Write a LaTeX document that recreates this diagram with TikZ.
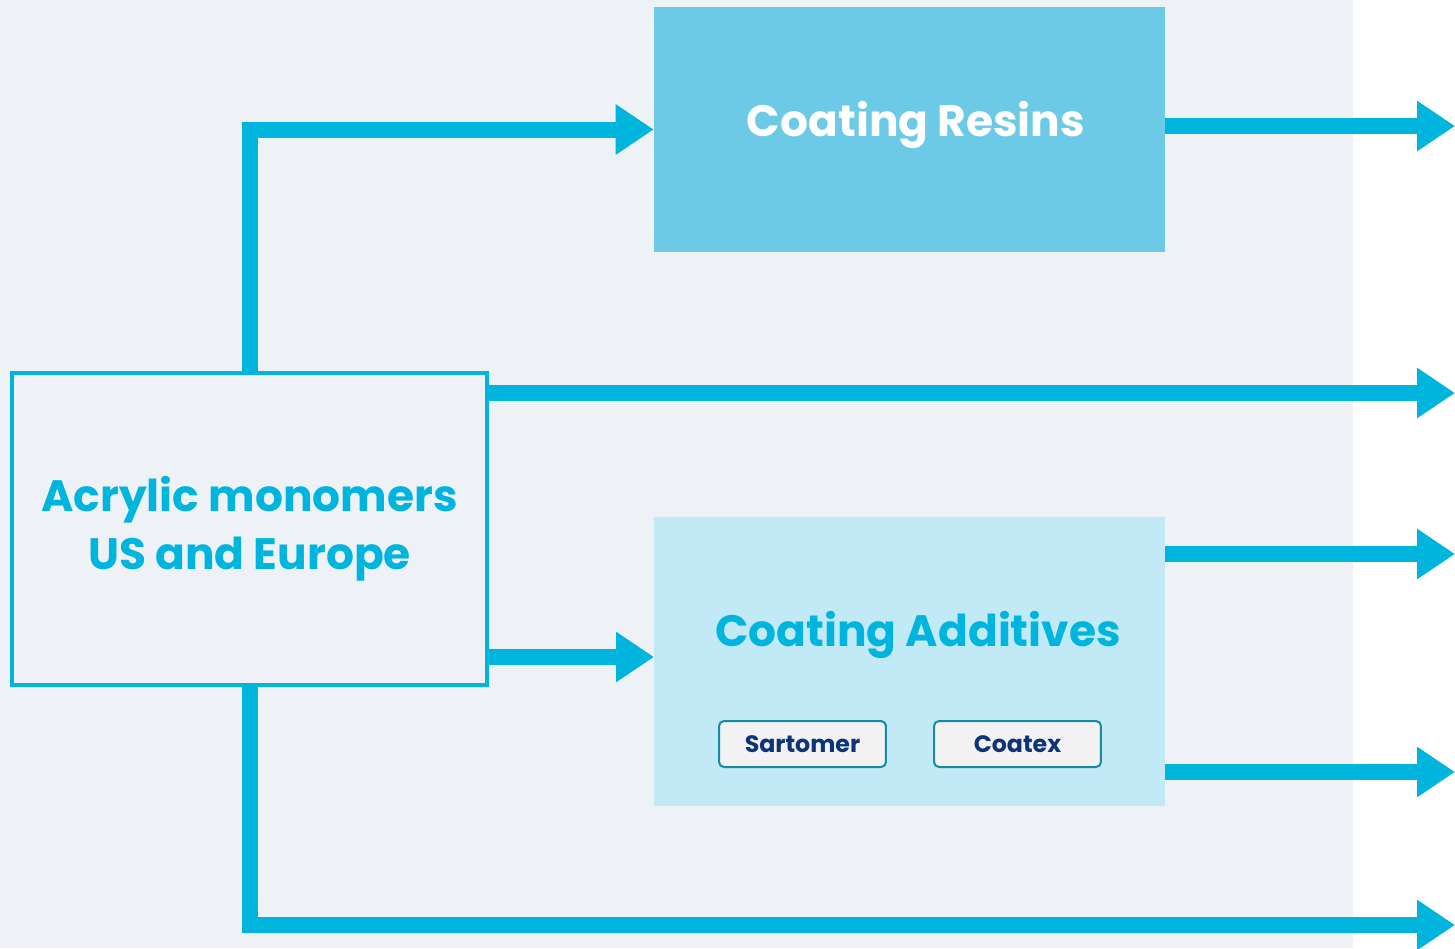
\documentclass[tikz,border=0pt]{standalone}
\usepackage{fontspec}
\setmainfont{Poppins}
\usepackage{tikz}
\usetikzlibrary{arrows.meta}
\definecolor{flowBlue}{RGB}{0,181,221}
\definecolor{paneGrey}{RGB}{238,242,247}
\definecolor{resinBlue}{RGB}{108,202,230}
\definecolor{additBlue}{RGB}{194,233,246}
\definecolor{chipEdge}{RGB}{22,138,166}
\definecolor{chipFill}{RGB}{242,242,242}
\definecolor{chipText}{RGB}{13,52,120}
\tikzset{>={Triangle[length=0.76cm,width=0.96cm]}}
\tikzset{
  monoNode/.style={shape=rectangle,draw=flowBlue,line width=0.08cm,fill=paneGrey,text=flowBlue,align=center,font=\bfseries\fontsize{25}{33}\selectfont},
  resinNode/.style={shape=rectangle,fill=resinBlue,text=white,font=\bfseries\fontsize{25}{30}\selectfont},
  additNode/.style={shape=rectangle,fill=additBlue},
  additTitle/.style={text=flowBlue,font=\bfseries\fontsize{25}{30}\selectfont},
  chipNode/.style={shape=rectangle,rounded corners=0.1cm,draw=chipEdge,line width=0.04cm,fill=chipFill,text=chipText,font=\bfseries\fontsize{13.5}{15}\selectfont},
  flowLink/.style={draw=flowBlue,->,line width=0.32cm}
}

\begin{document}
\begin{tikzpicture}[x=0.02cm,y=-0.02cm]
        \useasboundingbox (0,0) rectangle (1455,948);
        \fill[paneGrey] (0,0) rectangle (1353,948);

        \node[minimum width=9.5cm,minimum height=6.24cm] (acryl) [monoNode] at (249.5,529) {Acrylic monomers\\US and Europe};
        \node[minimum width=10.22cm,minimum height=4.9cm] (resin) [resinNode] at (909.5,129.5) {};
        \node (resinTxt) [resinNode] at (916,125) {Coating Resins};
        \node[minimum width=10.22cm,minimum height=5.78cm] (addit) [additNode] at (909.5,661.5) {};
        \node (additTxt) [additTitle] at (918,635) {Coating Additives};
        \node[minimum width=3.34cm,minimum height=0.92cm] (sarto) [chipNode] at (802.5,744) {Sartomer};
        \node[minimum width=3.34cm,minimum height=0.92cm] (coatex) [chipNode] at (1017.5,744) {Coatex};

        % outlets on the right edge
        \coordinate (outA) at (1455,126);
        \coordinate (outB) at (1455,393);
        \coordinate (outC) at (1455,554);
        \coordinate (outD) at (1455,772);
        \coordinate (outE) at (1455,925);
        \coordinate (inAdd) at (654,657);

        \path
    (acryl.north) edge [flowLink, to path={|- (\tikztotarget)}] (resin.west)
    (acryl.south) edge [flowLink, to path={|- (\tikztotarget)}] (outE)
    (acryl.east |- inAdd) edge [flowLink] (inAdd)
    (acryl.east |- outB) edge [flowLink] (outB)
    (resin.east |- outA) edge [flowLink] (outA)
    (addit.east |- outC) edge [flowLink] (outC)
    (addit.east |- outD) edge [flowLink] (outD);

\end{tikzpicture}
\end{document}
